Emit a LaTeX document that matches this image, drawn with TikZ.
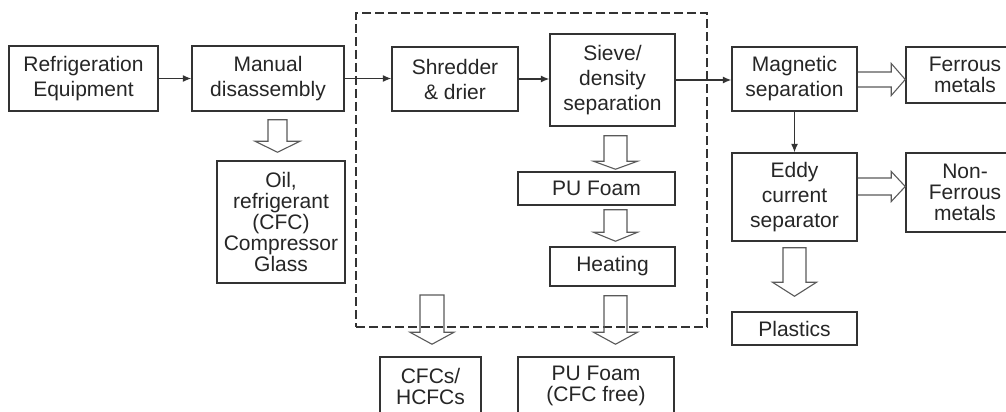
\documentclass[tikz,border=0pt]{standalone}
\usepackage{fontspec}
\setmainfont{Liberation Sans}
\usetikzlibrary{arrows.meta,calc}

\definecolor{ink}{HTML}{262626}
\definecolor{frame}{HTML}{333333}
\definecolor{hollowgray}{HTML}{5A5A5A}

% Open block arrow pointing down: #1 shaft top (centre), #2 tip,
% #3 shaft half-width, #4 head half-width, #5 head length
\newcommand{\hollowdown}[5]{%
  \draw[hollow] let \p1=(#1), \p2=(#2) in
    (\x1-#3,\y1) -- (\x1+#3,\y1) -- (\x1+#3,\y2+#5) -- (\x1+#4,\y2+#5)
    -- (\x1,\y2) -- (\x1-#4,\y2+#5) -- (\x1-#3,\y2+#5) -- cycle;}
% Open block arrow pointing right, shaft starting on a box edge:
% #1 shaft start (centre), #2 tip, #3 shaft half-width, #4 head half-width, #5 head length
\newcommand{\hollowright}[5]{%
  \draw[hollow] let \p1=(#1), \p2=(#2) in
    (\x1,\y1+#3) -- (\x2-#5,\y1+#3) -- (\x2-#5,\y1+#4) -- (\x2,\y1)
    -- (\x2-#5,\y1-#4) -- (\x2-#5,\y1-#3) -- (\x1,\y1-#3);}

\begin{document}
\begin{tikzpicture}[x=1pt,y=-1pt,
  box/.style={draw=frame, line width=1.5pt, inner sep=0pt, align=center,
    text=ink, font=\fontsize{21}{25}\selectfont},
  tight/.style={font=\fontsize{21}{21}\selectfont},
  flow/.style={draw=frame, line width=1.1pt, -{Latex[length=8.5pt,width=7pt]}},
  hollow/.style={draw=hollowgray, line width=1.1pt, line join=miter},
  stage/.style={draw=frame, line width=1.3pt, dash pattern=on 9pt off 4pt,
    inner sep=0pt}]
\useasboundingbox (0,0) rectangle (1006,412);
\clip (0,0) rectangle (1006,412);
\fill[white] (0,0) rectangle (1006,412);

% dashed frame around the shredding stage
\node[stage, minimum width=351pt, minimum height=314pt] (plant) at (531.5,170) {};

% process boxes
\node[box, minimum width=149pt, minimum height=65pt] (equip) at (83.5,78.5) {Refrigeration\\Equipment};
\node[box, minimum width=152pt, minimum height=65pt] (manual) at (268,78.5) {Manual\\disassembly};
\node[box, tight, minimum width=128pt, minimum height=122pt] (oil) at (281,222) {Oil,\\refrigerant\\(CFC)\\Compressor\\Glass};
\node[box, minimum width=126pt, minimum height=64pt] (shred) at (455,79) {Shredder\\\& drier};
\node[box, minimum width=125pt, minimum height=92pt] (sieve) at (612.5,80) {Sieve/\\density\\separation};
\node[box, minimum width=157pt, minimum height=33pt] (pufoam) at (596.5,188.5) {PU Foam};
\node[box, minimum width=125pt, minimum height=39pt] (heat) at (612.5,266.5) {Heating};
\node[box, tight, minimum width=101pt, minimum height=58pt] (cfc) at (430.5,386) {CFCs/\\HCFCs};
\node[box, tight, minimum width=156pt, minimum height=58pt] (pufree) at (596,386) {PU Foam\\(CFC free)};
\node[box, minimum width=125pt, minimum height=64pt] (magnet) at (794.5,79) {Magnetic\\separation};
\node[box, tight, minimum width=118pt, minimum height=56pt] (ferrous) at (965,75) {Ferrous\\metals};
\node[box, minimum width=125pt, minimum height=88pt] (eddy) at (794.5,197) {Eddy\\current\\separator};
\node[box, tight, minimum width=118pt, minimum height=79pt] (nonfer) at (965,192.5) {Non-\\Ferrous\\metals};
\node[box, minimum width=125pt, minimum height=33pt] (plastics) at (794.5,328.5) {Plastics};

% main material flow
\draw[flow] (equip.east) -- (manual.west |- equip.east);
\draw[flow] (manual.east) -- (shred.west |- manual.east);
\draw[flow] (shred.east) -- (sieve.west |- shred.east);
\draw[flow] (sieve.east) -- (magnet.west |- sieve.east);
\draw[flow] (magnet.south) -- (eddy.north);

% outputs (open block arrows)
\coordinate (cfcsrc) at (432,295);
\hollowdown{$(manual.south)+(9.5,8)$}{$(oil.north)+(0,-8)$}{9.5pt}{22.5pt}{11pt}
\hollowdown{$(sieve.south)+(3,9)$}{$(pufoam.north)+(0,-2)$}{11.5pt}{22pt}{8pt}
\hollowdown{$(pufoam.south)+(19,4)$}{$(heat.north)+(0,-5)$}{11.5pt}{22pt}{9pt}
\hollowdown{$(heat.south)+(3,9)$}{$(pufree.north)+(0,-12)$}{11.5pt}{22pt}{12pt}
\hollowdown{cfcsrc}{$(cfc.north)+(0,-12)$}{12pt}{22pt}{12pt}
\hollowdown{$(eddy.south)+(0,6)$}{$(plastics.north)+(0,-15)$}{11.5pt}{22pt}{14pt}
\hollowright{$(magnet.east)+(0,0.5)$}{ferrous.west}{7.5pt}{16pt}{14pt}
\hollowright{$(eddy.east)+(0,-10.5)$}{nonfer.west}{8.5pt}{15pt}{14pt}
\end{tikzpicture}
\end{document}
